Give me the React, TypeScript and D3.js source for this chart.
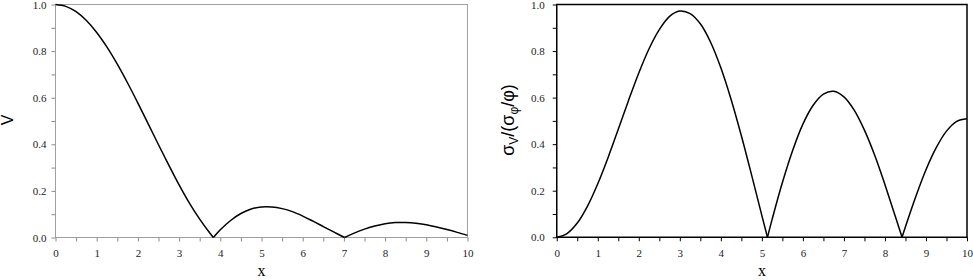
import React, { useRef, useEffect } from "react";
import * as d3 from "d3";

// left panel: V against x
const leftX = [0, 0.25, 0.5, 0.75, 1, 1.25, 1.5, 1.75, 2, 2.25, 2.5, 2.75, 3, 3.25, 3.5, 3.75, 3.832, 4, 4.25, 4.5, 4.75, 5, 5.25, 5.5, 5.75, 6, 6.25, 6.5, 6.75, 7.016, 7.25, 7.5, 7.75, 8, 8.25, 8.5, 8.75, 9, 9.25, 9.5, 9.75, 10];
const leftV = [1, 0.992, 0.969, 0.931, 0.88, 0.817, 0.744, 0.663, 0.577, 0.488, 0.398, 0.311, 0.226, 0.148, 0.079, 0.018, 0, 0.033, 0.073, 0.103, 0.122, 0.131, 0.131, 0.124, 0.111, 0.092, 0.07, 0.047, 0.024, 0, 0.019, 0.036, 0.049, 0.059, 0.064, 0.064, 0.061, 0.055, 0.045, 0.034, 0.022, 0.009];

// right panel: sigma_V / (sigma_phi / phi) against x
const rightX = [0, 0.25, 0.5, 0.75, 1, 1.25, 1.5, 1.75, 2, 2.25, 2.5, 2.75, 3, 3.25, 3.5, 3.75, 4, 4.25, 4.5, 4.75, 5, 5.136, 5.25, 5.5, 5.75, 6, 6.25, 6.5, 6.75, 7, 7.25, 7.5, 7.75, 8, 8.25, 8.417, 8.5, 8.75, 9, 9.25, 9.5, 9.75, 10];
const rightS = [0, 0.016, 0.061, 0.134, 0.23, 0.342, 0.464, 0.588, 0.706, 0.81, 0.892, 0.949, 0.972, 0.961, 0.917, 0.838, 0.728, 0.592, 0.436, 0.267, 0.093, 0, 0.077, 0.235, 0.373, 0.486, 0.567, 0.615, 0.627, 0.603, 0.546, 0.46, 0.352, 0.226, 0.091, 0, 0.045, 0.174, 0.29, 0.385, 0.456, 0.498, 0.509];

const xTicks = [0, 1, 2, 3, 4, 5, 6, 7, 8, 9, 10];
const xMinor = [0.5, 1.5, 2.5, 3.5, 4.5, 5.5, 6.5, 7.5, 8.5, 9.5];
const yTicks = [0, 0.2, 0.4, 0.6, 0.8, 1.0];
const yMinor = [0.1, 0.3, 0.5, 0.7, 0.9];

const W = 973;
const H = 280;
const TICK_FONT = "'Liberation Serif', 'Times New Roman', serif";

// break the curve where it touches zero so the cusps stay sharp
function lobes(xs: number[], ys: number[]) {
  const out: [number, number][][] = [];
  let cur: [number, number][] = [];
  xs.forEach((x, i) => {
    cur.push([x, ys[i]]);
    if (ys[i] === 0 && i > 0 && i < xs.length - 1) {
      out.push(cur);
      cur = [[x, ys[i]]];
    }
  });
  out.push(cur);
  return out;
}

const App = () => {
  const ref = useRef<SVGSVGElement>(null);

  useEffect(() => {
    const svg = d3.select(ref.current);
    svg.selectAll("*").remove();

    const panel = (opts: {
      x0: number; x1: number; y0: number; y1: number;
      frame: string; frameW: number; tick: string; yPad: number;
      xs: number[]; ys: number[];
    }) => {
      const x = d3.scaleLinear().domain([0, 10]).range([opts.x0, opts.x1]);
      const y = d3.scaleLinear().domain([0, 1]).range([opts.y1, opts.y0]);
      const g = svg.append("g");

      const xAxis = d3.axisBottom(x).tickValues(xTicks).tickSize(4).tickPadding(8).tickFormat(d3.format("d"));
      const xAxisMinor = d3.axisBottom(x).tickValues(xMinor).tickSize(4).tickFormat(() => "");
      const yAxis = d3.axisLeft(y).tickValues(yTicks).tickSize(4).tickPadding(opts.yPad).tickFormat(d3.format(".1f"));
      const yAxisMinor = d3.axisLeft(y).tickValues(yMinor).tickSize(4).tickFormat(() => "");

      [xAxis, xAxisMinor].forEach((a) => {
        g.append("g").attr("transform", `translate(0,${opts.y1})`).call(a);
      });
      [yAxis, yAxisMinor].forEach((a) => {
        g.append("g").attr("transform", `translate(${opts.x0},0)`).call(a);
      });
      g.selectAll(".domain").remove();
      g.selectAll(".tick line").attr("stroke", opts.tick);
      g.selectAll(".tick text")
        .attr("fill", "#222")
        .style("font-family", TICK_FONT)
        .style("font-size", "11px");

      g.append("rect")
        .attr("x", opts.x0)
        .attr("y", opts.y0)
        .attr("width", opts.x1 - opts.x0)
        .attr("height", opts.y1 - opts.y0)
        .attr("fill", "none")
        .attr("stroke", opts.frame)
        .attr("stroke-width", opts.frameW);

      const line = d3
        .line<[number, number]>()
        .x((d) => x(d[0]))
        .y((d) => y(d[1]))
        .curve(d3.curveCatmullRom.alpha(0.5));

      g.selectAll(".curve")
        .data(lobes(opts.xs, opts.ys))
        .enter()
        .append("path")
        .attr("class", "curve")
        .attr("d", (d) => line(d))
        .attr("fill", "none")
        .attr("stroke", "#000")
        .attr("stroke-width", 1.5);

      g.append("text")
        .attr("x", (opts.x0 + opts.x1) / 2)
        .attr("y", 276)
        .attr("text-anchor", "middle")
        .style("font-family", TICK_FONT)
        .style("font-size", "16px")
        .text("x");
    };

    panel({ x0: 55.5, x1: 467.5, y0: 4.5, y1: 237.5, frame: "#a0a0a0", frameW: 1, tick: "#888", yPad: 5, xs: leftX, ys: leftV });
    panel({ x0: 556.75, x1: 967, y0: 4.5, y1: 237.25, frame: "#000", frameW: 1.5, tick: "#000", yPad: 8, xs: rightX, ys: rightS });

    // y titles
    svg.append("text")
      .attr("transform", "translate(13,120) rotate(-90)")
      .attr("text-anchor", "middle")
      .style("font-family", "'Liberation Sans', Arial, sans-serif")
      .style("font-size", "16px")
      .text("V");

    const t = svg.append("text")
      .attr("transform", "translate(514,120) rotate(-90)")
      .attr("text-anchor", "middle")
      .style("font-family", "'Liberation Sans', Arial, sans-serif")
      .style("font-size", "18px");
    t.append("tspan").text("σ");
    t.append("tspan").attr("dy", 4).style("font-size", "12px").text("V");
    t.append("tspan").attr("dy", -4).text("/(σ");
    t.append("tspan").attr("dy", 4).style("font-size", "12px").text("φ");
    t.append("tspan").attr("dy", -4).text("/φ)");
  }, []);

  return (
    <svg
      ref={ref}
      width={W}
      height={H}
      style={{ position: "absolute", left: 0, top: 0, background: "#fff" }}
    />
  );
};

export default App;
